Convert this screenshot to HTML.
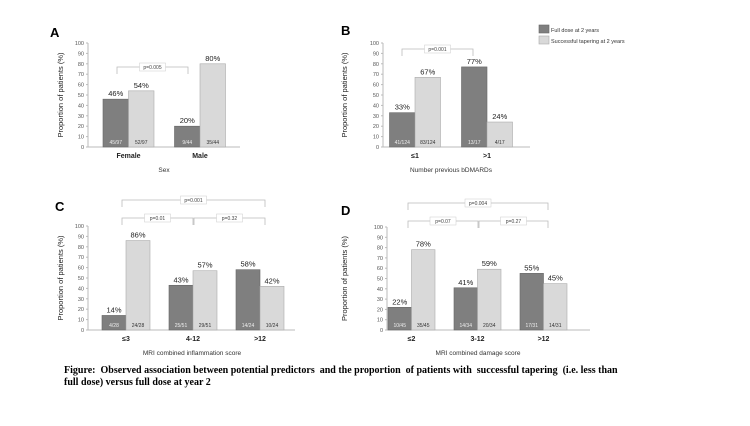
<!DOCTYPE html>
<html><head><meta charset="utf-8"><style>
body{margin:0;background:#fff;width:750px;height:421px;overflow:hidden}
svg{font-family:"Liberation Sans",sans-serif}
.cap{position:absolute;left:64px;top:365px;font:bold 10px "Liberation Serif",serif;color:#000;line-height:12px}
</style></head><body>
<svg id="chart" width="750" height="421"></svg>
<div class="cap">Figure:&nbsp; Observed association between potential predictors&nbsp; and the proportion&nbsp; of patients with&nbsp; successful tapering&nbsp; (i.e. less than<br>full dose) versus full dose at year 2</div>
<script>
const catsA=["Female","Male"], fullA=[46,20], taperA=[54,80], fracFullA=["45/97","9/44"], fracTaperA=["52/97","35/44"];
const catsB=["≤1",">1"], fullB=[33,77], taperB=[67,24], fracFullB=["41/124","13/17"], fracTaperB=["83/124","4/17"];
const catsC=["≤3","4-12",">12"], fullC=[14,43,58], taperC=[86,57,42], fracFullC=["4/28","25/51","14/24"], fracTaperC=["24/28","29/51","10/24"];
const catsD=["≤2","3-12",">12"], fullD=[22,41,55], taperD=[78,59,45], fracFullD=["10/45","14/34","17/31"], fracTaperD=["35/45","20/34","14/31"];
const yTicks=[0,10,20,30,40,50,60,70,80,90,100];
const NS="http://www.w3.org/2000/svg", svg=document.getElementById('chart');
function mk(t,a,txt){const e=document.createElementNS(NS,t);for(const k in a)e.setAttribute(k,a[k]);if(txt!=null)e.textContent=txt;svg.appendChild(e);return e;}
function panel(p){
  const y=v=>p.y0-(p.y0-p.y100)*v/100;
  const cx=i=>p.c0+i*p.step;
  let e=mk('text',{x:p.lx,y:p.ly,'font-size':13,'font-weight':'bold'},p.letter);
  
  
  e=mk('line',{x1:p.ax,x2:p.ax,y1:p.y100,y2:p.y0,stroke:'#bbb'});
  
  
  e=mk('line',{x1:p.ax,x2:p.axEnd,y1:p.y0,y2:p.y0,stroke:'#bbb'});
  
  
  yTicks.forEach(t=>{
    e=mk('text',{x:p.ax-4,y:y(t)+2,'font-size':5.5,'text-anchor':'end',fill:'#555'},t);
    
    
    mk('line',{x1:p.ax-2,x2:p.ax,y1:y(t),y2:y(t),stroke:'#bbb'});
  });
  const ym=(p.y0+p.y100)/2;
  e=mk('text',{x:p.ytx,y:ym,'font-size':7.5,'text-anchor':'middle',fill:'#222',transform:`rotate(-90 ${p.ytx} ${ym})`},'Proportion of patients (%)');
  
  
  p.cats.forEach((c,i)=>{
    const bw=p.bw, x=cx(i);
    [[p.full[i],p.ff[i],'#7f7f7f','#666',x-bw,'#eee','full-dose'],[p.taper[i],p.ft[i],'#d9d9d9','#aaa',x,'#333','tapering']].forEach(s=>{
      const r=mk('rect',{x:s[4],y:y(s[0]),width:bw,height:p.y0-y(s[0]),fill:s[2],stroke:s[3],'stroke-width':0.6});
      
      
      const t=mk('text',{x:s[4]+bw/2,y:y(s[0])-3,'font-size':7.5,'text-anchor':'middle',fill:'#222'},s[0]+'%');
      
      
      const f=mk('text',{x:s[4]+bw/2,y:p.y0-3,'font-size':5,'text-anchor':'middle',fill:s[5]},s[1]);
      
      
    });
    e=mk('text',{x:x,y:p.y0+11,'font-size':7,'font-weight':'bold','text-anchor':'middle',fill:'#222'},c);
    
    
  });
  e=mk('text',{x:p.xtx,y:p.y0+25,'font-size':6.5,'text-anchor':'middle',fill:'#333'},p.xtitle);
  
  
  p.brackets.forEach(b=>{
    const pa=mk('path',{d:`M${b[0]} ${b[2]+7}V${b[2]}H${b[1]}V${b[2]+7}`,fill:'none',stroke:'#bbb','stroke-width':0.8});
    
    
    const m=(b[0]+b[1])/2;
    mk('rect',{x:m-13,y:b[2]-4,width:26,height:8,fill:'#fff',stroke:'#ccc','stroke-width':0.5});
    const t=mk('text',{x:m,y:b[2]+2,'font-size':5,'text-anchor':'middle',fill:'#444'},b[3]);
    
    
  });
}
panel({letter:'A',lx:50,ly:37,ax:88,axEnd:240,y0:147,y100:43,c0:128.5,step:71.5,bw:25.5,ytx:63,xtx:164,xtitle:'Sex',cats:catsA,full:fullA,taper:taperA,ff:fracFullA,ft:fracTaperA,brackets:[[117,188,67,'p=0.005']]});
panel({letter:'B',lx:341,ly:35,ax:383,axEnd:530,y0:147,y100:43,c0:415,step:72,bw:25.5,ytx:347,xtx:451,xtitle:'Number previous bDMARDs',cats:catsB,full:fullB,taper:taperB,ff:fracFullB,ft:fracTaperB,brackets:[[402,473,49,'p=0.001']]});
panel({letter:'C',lx:55,ly:211,ax:88,axEnd:295,y0:330,y100:226,c0:126,step:67,bw:24,ytx:63,xtx:192,xtitle:'MRI combined inflammation score',cats:catsC,full:fullC,taper:taperC,ff:fracFullC,ft:fracTaperC,brackets:[[122,265,200,'p=0.001'],[122,193,218,'p=0.01'],[194,265,218,'p=0.32']]});
panel({letter:'D',lx:341,ly:215,ax:387,axEnd:590,y0:330,y100:227,c0:411.5,step:66,bw:23.5,ytx:347,xtx:478,xtitle:'MRI combined damage score',cats:catsD,full:fullD,taper:taperD,ff:fracFullD,ft:fracTaperD,brackets:[[408,548,203,'p=0.004'],[408,478,221,'p=0.07'],[479,548,221,'p=0.27']]});
let l=mk('rect',{x:539,y:25,width:10,height:8,fill:'#7f7f7f',stroke:'#666','stroke-width':0.6});


l=mk('text',{x:551,y:32,'font-size':5.5,fill:'#333'},'Full dose at 2 years');


l=mk('rect',{x:539,y:36,width:10,height:8,fill:'#d9d9d9',stroke:'#aaa','stroke-width':0.6});


l=mk('text',{x:551,y:43,'font-size':5.5,fill:'#333'},'Successful tapering at 2 years');


</script>
</body></html>
